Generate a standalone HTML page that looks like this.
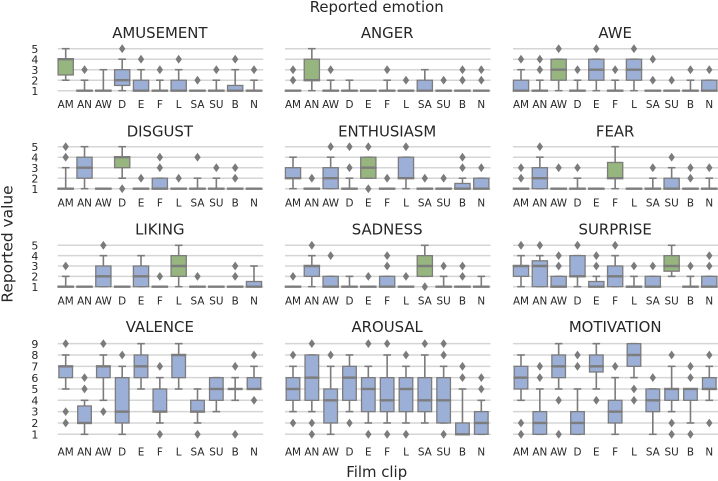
<!DOCTYPE html>
<html lang="en">
<head>
<meta charset="utf-8">
<title>Reported emotion by film clip</title>
<style>
html,body{margin:0;padding:0;background:#fff;width:718px;height:481px;overflow:hidden}
svg{display:block;filter:blur(0.3px)}
text{font-family:"DejaVu Sans","Liberation Sans",sans-serif;fill:#262626}
</style>
</head>
<body>
<svg id="chart" xmlns="http://www.w3.org/2000/svg" width="718" height="481" viewBox="0 0 718 481">
<text x="376.7" y="12" font-size="14.9" text-anchor="middle">Reported emotion</text>
<text x="376.7" y="477" font-size="14.9" text-anchor="middle">Film clip</text>
<text transform="translate(12.5 244) rotate(-90)" font-size="15.4" text-anchor="middle">Reported value</text>
</svg>
<script>
// Each row: [whisker low, q1, median, q3, whisker high, [outliers]]
const categories = ['AM','AN','AW','D','E','F','L','SA','SU','B','N'];
const panelTitles = ['AMUSEMENT','ANGER','AWE','DISGUST','ENTHUSIASM','FEAR','LIKING','SADNESS','SURPRISE','VALENCE','AROUSAL','MOTIVATION'];
const ticksFive = [1,2,3,4,5];
const ticksNine = [1,2,3,4,5,6,7,8,9];

const amusement = [[2,2.5,4,4,5,[]],[1,1,1,1,2,[3]],[1,1,1,1,3,[]],[1,1.5,2,3,4,[5]],[1,1,1,2,3,[4]],[1,1,1,1,2,[3]],[1,1,1,2,3,[4]],[1,1,1,1,1,[2]],[1,1,1,1,2,[3]],[1,1,1,1.5,3,[4]],[1,1,1,1,2,[3]]];
const anger = [[1,1,1,1,1,[2,3]],[1,2,2,4,5,[]],[1,1,1,1,2,[3]],[1,1,1,1,2,[]],[1,1,1,1,1,[]],[1,1,1,1,2,[3]],[1,1,1,1,1,[2]],[1,1,1,2,3,[]],[1,1,1,1,1,[2]],[1,1,1,1,1,[2,3]],[1,1,1,1,1,[2,3]]];
const awe = [[1,1,1,2,3,[4]],[1,1,1,1,2,[3,4]],[1,2,3,4,4,[5]],[1,1,1,1,2,[3]],[1,2,3,4,4,[5]],[1,1,1,1,2,[3]],[1,2,3,4,4,[5]],[1,1,1,1,1,[2,4]],[1,1,1,1,1,[2]],[1,1,1,1,2,[3]],[1,1,1,2,2,[3]]];
const disgust = [[1,1,1,1,3,[4,5]],[1,2,3,4,5,[]],[1,1,1,1,1,[]],[2,3,4,4,5,[1]],[1,1,1,1,1,[2]],[1,1,1,2,2,[3,4]],[1,1,1,1,1,[2]],[1,1,1,1,2,[4]],[1,1,1,1,2,[3]],[1,1,1,1,1,[2,3]],[1,1,1,1,1,[]]];
const enthusiasm = [[1,2,2,3,4,[]],[1,1,1,1,1,[2]],[1,1,2,3,4,[5]],[1,1,1,1,2,[3,5]],[2,2,3,4,4,[1,5]],[1,1,1,1,1,[2]],[1,2,2,4,4,[5]],[1,1,1,1,1,[2]],[1,1,1,1,1,[2]],[1,1,1,1.5,2,[3,4]],[1,1,1,2,2,[3]]];
const fear = [[1,1,1,1,1,[2,3]],[1,1,2,3,4,[5]],[1,1,1,1,1,[3]],[1,1,1,1,2,[3]],[1,1,1,1,1,[]],[1,2,2,3.5,5,[]],[1,1,1,1,1,[]],[1,1,1,1,2,[3]],[1,1,1,2,3,[4]],[1,1,1,1,1,[2,3]],[1,1,1,1,2,[3]]];
const liking = [[1,1,1,1,2,[3]],[1,1,1,1,1,[]],[1,1,2,3,4,[5]],[1,1,1,1,1,[]],[1,1,2,3,4,[]],[1,1,1,1,1,[2]],[1,2,3,4,5,[]],[1,1,1,1,1,[2]],[1,1,1,1,1,[]],[1,1,1,1,1,[2,3]],[1,1,1,1.5,3,[]]];
const sadness = [[1,1,1,1,1,[2]],[1,2,3,3,4,[5]],[1,1,1,2,2,[4]],[1,1,1,1,2,[]],[1,1,1,1,1,[2]],[1,1,1,2,2,[3,4]],[1,1,1,1,1,[2]],[2,2,3,4,5,[1]],[1,1,1,1,2,[3]],[1,1,1,1,1,[2,3]],[1,1,1,1,2,[]]];
const surprise = [[1,2,3,3,4,[5]],[1,1,3,3.5,4,[5]],[1,1,1,2,2,[3,4]],[1,2,2,4,4,[5]],[1,1,1,1.5,2,[3,4]],[1,1,2,3,4,[5]],[1,1,1,1,2,[3]],[1,1,1,2,2,[3]],[2,2.5,3,4,5,[]],[1,1,1,1,2,[3]],[1,1,1,2,2,[3,4]]];
const valence = [[5,6,7,7,8,[2,3,9]],[1,2,2,3.5,4,[5,6]],[4,6,7,7,8,[3,9]],[1,2,3,6,7,[8]],[5,6,7,8,9,[]],[2,3,3,5,6,[1,7]],[5,6,8,8,9,[]],[2,3,3,4,5,[1]],[3,4,5,6,6,[]],[4,5,5,5,6,[1,7]],[5,5,5,6,7,[4,8]]];
const arousal = [[3,4,5,6,7,[2,8]],[3,4,6,8,8,[1,2,9]],[1,2,4,5,7,[8]],[3,4,6,7,8,[2]],[2,3,5,6,7,[1,9]],[2,3,4,6,8,[1,9]],[2,3,5,6,7,[1,8]],[2,3,4,6,8,[9]],[2,2,4,6,7,[1,8,9]],[1,1,1,2,5,[6,7]],[1,1,2,3,4,[5,6]]];
const motivation = [[4,5,6,7,8,[1,2]],[1,1,2,3,5,[6,7]],[5,6,7,8,9,[1,4]],[1,1,2,3,5,[7,8]],[5,6.5,7,8,9,[4]],[1,2,3,4,6,[7]],[6,7,8,9,9,[4,5]],[1,3,4,5,5,[6]],[3,4,5,5,7,[1,2,8]],[2,4,5,5,5,[1,6,7]],[4,5,5,6,7,[2,8]]];

const panelStats = [amusement,anger,awe,disgust,enthusiasm,fear,liking,sadness,surprise,valence,arousal,motivation];

const SVG_NS = 'http://www.w3.org/2000/svg';
const chart = document.getElementById('chart');
const colFirstCenter = [65.7, 293, 521];
const catStep = 18.83;
const rowBase = [90.7, 188.7, 286.7, 434.3];
const rowUnit = [10.5, 10.5, 10.35, 11.33];
const titleY = [38, 136.5, 234.5, 332];
const tickY = [108, 206.3, 304.7, 455.4];
const boxHalf = [7.6, 7.6, 7.6, 6.8];
const BLUE = '#9cafd6';
const GREEN = '#97b67f';
const LINE = '#7c7c7c';

function make(tag, attrs, parent) {
  const n = document.createElementNS(SVG_NS, tag);
  for (const k in attrs) n.setAttribute(k, attrs[k]);
  parent.appendChild(n);
  return n;
}
function line(x1, y1, x2, y2, w, color, parent) {
  return make('line', {x1: x1, y1: y1, x2: x2, y2: y2, stroke: color, 'stroke-width': w}, parent);
}

panelStats.forEach(function (stats, p) {
  const col = p % 3;
  const row = Math.floor(p / 3);
  const ticks = row === 3 ? ticksNine : ticksFive;
  const xScale = function (i) { return colFirstCenter[col] + i * catStep; };
  const yScale = function (v) { return rowBase[row] - (v - 1) * rowUnit[row]; };
  const slug = panelTitles[p].toLowerCase();

  const g = make('g', {}, chart);
  
  

  const title = make('text', {x: xScale(5), y: titleY[row], 'font-size': 14.9, 'text-anchor': 'middle'}, g);
  title.textContent = panelTitles[p];
  
  

  ticks.forEach(function (t) {
    const gl = line(xScale(0) - 8, yScale(t), xScale(10) + 9.2, yScale(t), 1.5, '#d5d5d5', g);
    
    
    if (col === 0) {
      const lab = make('text', {x: 38.4, y: yScale(t) + 4.1, 'font-size': 11, 'text-anchor': 'end'}, g);
      lab.textContent = t;
      
      
    }
  });

  categories.forEach(function (c, i) {
    const lab = make('text', {x: xScale(i), y: tickY[row], 'font-size': 10.4, 'text-anchor': 'middle'}, g);
    lab.textContent = c;
    
    
  });

  stats.forEach(function (s, i) {
    const x = xScale(i);
    const hw = boxHalf[row];
    const capW = 3.8;
    const fill = (i === p && p < 9) ? GREEN : BLUE;
    const b = make('g', {}, g);
    
    

    line(x, yScale(s[0]), x, yScale(s[1]), 1.6, LINE, b);
    line(x, yScale(s[3]), x, yScale(s[4]), 1.6, LINE, b);
    line(x - capW, yScale(s[0]), x + capW, yScale(s[0]), 1.6, LINE, b);
    line(x - capW, yScale(s[4]), x + capW, yScale(s[4]), 1.6, LINE, b);
    make('rect', {x: x - hw, y: yScale(s[3]), width: hw * 2, height: yScale(s[1]) - yScale(s[3]), fill: fill, stroke: LINE, 'stroke-width': 1.3}, b);
    line(x - hw - 0.7, yScale(s[2]), x + hw + 0.7, yScale(s[2]), 2.4, LINE, b);

    s[5].forEach(function (o) {
      const cy = yScale(o);
      const d = make('path', {d: 'M' + x + ' ' + (cy - 4.4) + 'L' + (x + 3.2) + ' ' + cy + 'L' + x + ' ' + (cy + 4.4) + 'L' + (x - 3.2) + ' ' + cy + 'Z', fill: '#7b7b7b'}, b);
      
      
    });
  });
});
</script>
</body>
</html>
